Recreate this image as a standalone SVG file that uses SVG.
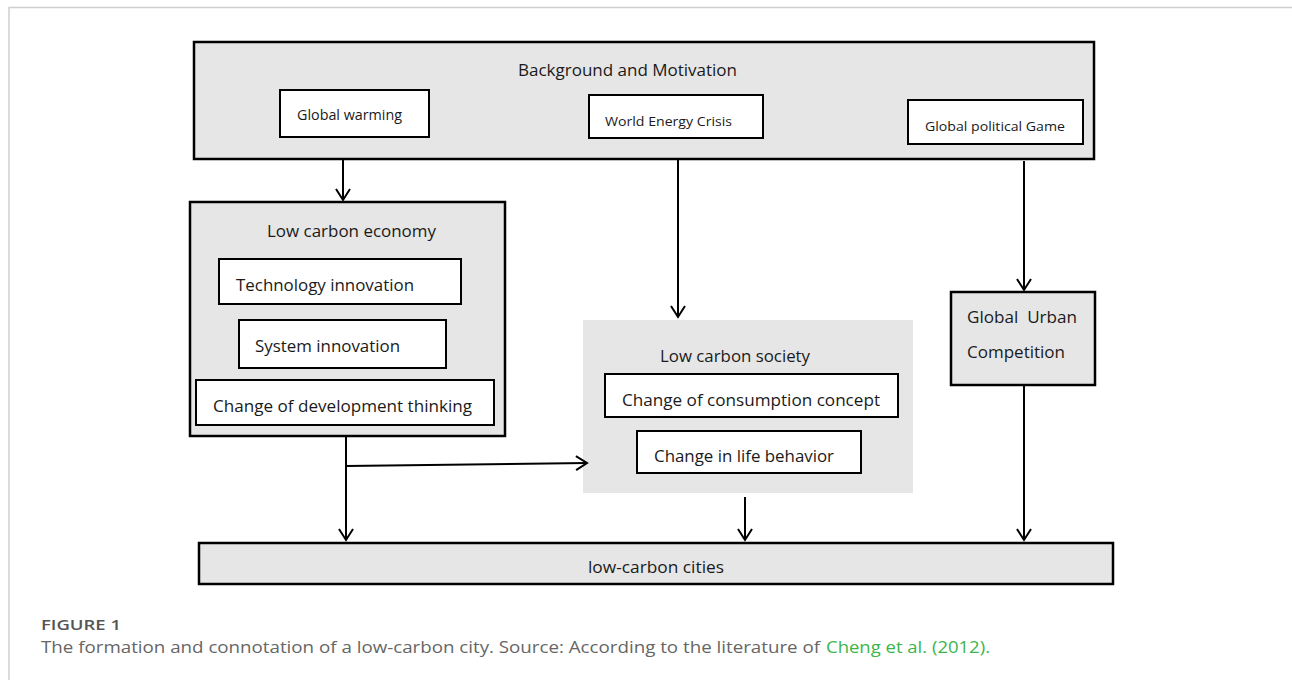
<svg xmlns="http://www.w3.org/2000/svg" width="1292" height="680" viewBox="0 0 1292 680">
<defs>
<style>
.bg{fill:#e6e6e6;stroke:#000;stroke-width:2.5}
.wb{fill:#fff;stroke:#000;stroke-width:2}
.t{font-family:"Open Sans","Liberation Sans",sans-serif;fill:#1a1a1a;text-anchor:start}
.c{font-family:"Open Sans","Liberation Sans",sans-serif}
.ln{stroke:#000;stroke-width:2;fill:none}
</style>
<marker id="ah" markerWidth="14" markerHeight="16" refX="12" refY="8" orient="auto" markerUnits="userSpaceOnUse">
<path d="M1,1 L12,8 L1,15" fill="none" stroke="#000" stroke-width="2"/>
</marker>
</defs>
<rect width="1292" height="680" fill="#fff"/>
<path d="M9,680 L9,7.5 L1292,7.5" fill="none" stroke="#cfcfcf" stroke-width="1.5"/>

<g id="background">
<rect class="bg" x="194" y="42" width="900" height="117"/>
<text class="t" x="518" y="76" font-size="16" textLength="219" lengthAdjust="spacingAndGlyphs">Background and Motivation</text>
</g>
<g id="global-warming">
<rect class="wb" x="280" y="90" width="149" height="47"/>
<text class="t" x="297" y="120" font-size="14" textLength="105" lengthAdjust="spacingAndGlyphs">Global warming</text>
</g>
<g id="energy-crisis">
<rect class="wb" x="589" y="95" width="174" height="43"/>
<text class="t" x="605" y="126" font-size="13" textLength="127" lengthAdjust="spacingAndGlyphs">World Energy Crisis</text>
</g>
<g id="political-game">
<rect class="wb" x="908" y="100" width="175" height="44"/>
<text class="t" x="925" y="131" font-size="13" textLength="140" lengthAdjust="spacingAndGlyphs">Global political Game</text>
</g>

<g id="low-carbon-economy">
<rect class="bg" x="190" y="202" width="315" height="234" stroke-width="2"/>
<text class="t" x="267" y="237" font-size="16.5" textLength="169" lengthAdjust="spacingAndGlyphs">Low carbon economy</text>
</g>
<g id="tech-innovation">
<rect class="wb" x="219" y="259" width="242" height="45"/>
<text class="t" x="236" y="291" font-size="16.5" textLength="178" lengthAdjust="spacingAndGlyphs">Technology innovation</text>
</g>
<g id="system-innovation">
<rect class="wb" x="239" y="320" width="207" height="48"/>
<text class="t" x="255" y="352" font-size="16.5" textLength="145" lengthAdjust="spacingAndGlyphs">System innovation</text>
</g>
<g id="development-thinking">
<rect class="wb" x="196" y="380" width="298" height="45"/>
<text class="t" x="213" y="412" font-size="16.5" textLength="259" lengthAdjust="spacingAndGlyphs">Change of development thinking</text>
</g>

<g id="low-carbon-society">
<rect x="583" y="320" width="330" height="173" fill="#e6e6e6"/>
<text class="t" x="660" y="362" font-size="16.5" textLength="150" lengthAdjust="spacingAndGlyphs">Low carbon society</text>
</g>
<g id="consumption-concept">
<rect class="wb" x="605" y="374" width="293" height="43"/>
<text class="t" x="622" y="406" font-size="16.5" textLength="258" lengthAdjust="spacingAndGlyphs">Change of consumption concept</text>
</g>
<g id="life-behavior">
<rect class="wb" x="637" y="431" width="224" height="42"/>
<text class="t" x="654" y="462" font-size="16.5" textLength="180" lengthAdjust="spacingAndGlyphs">Change in life behavior</text>
</g>

<g id="urban-competition">
<rect class="bg" x="951" y="292" width="144" height="93" stroke-width="2"/>
<text class="t" x="967" y="323" font-size="16.5" textLength="110" lengthAdjust="spacingAndGlyphs" xml:space="preserve">Global  Urban</text>
<text class="t" x="967" y="358" font-size="16.5" textLength="98" lengthAdjust="spacingAndGlyphs">Competition</text>
</g>

<g id="low-carbon-cities">
<rect class="bg" x="199" y="543" width="914" height="41"/>
<text class="t" x="588" y="573" font-size="16" textLength="136" lengthAdjust="spacingAndGlyphs">low-carbon cities</text>
</g>

<g id="connectors">
<line class="ln" x1="343" y1="160" x2="343" y2="200" marker-end="url(#ah)"/>
<line class="ln" x1="678" y1="160" x2="678" y2="317" marker-end="url(#ah)"/>
<line class="ln" x1="1024" y1="161" x2="1024" y2="290" marker-end="url(#ah)"/>
<line class="ln" x1="346" y1="437" x2="346" y2="540" marker-end="url(#ah)"/>
<line class="ln" x1="346" y1="466" x2="587" y2="463" marker-end="url(#ah)"/>
<line class="ln" x1="745" y1="497" x2="745" y2="540" marker-end="url(#ah)"/>
<line class="ln" x1="1024" y1="386" x2="1024" y2="540" marker-end="url(#ah)"/>
</g>

<g id="caption">
<text class="c" x="41" y="630" font-size="15" font-weight="600" fill="#555" textLength="80" lengthAdjust="spacingAndGlyphs">FIGURE 1</text>
<text class="c" x="41" y="653" font-size="16" fill="#666" textLength="779" lengthAdjust="spacingAndGlyphs">The formation and connotation of a low-carbon city. Source: According to the literature of</text>
<text class="c" x="826" y="653" font-size="16" fill="#3cb54a" textLength="164" lengthAdjust="spacingAndGlyphs">Cheng et al. (2012).</text>
</g>
</svg>
